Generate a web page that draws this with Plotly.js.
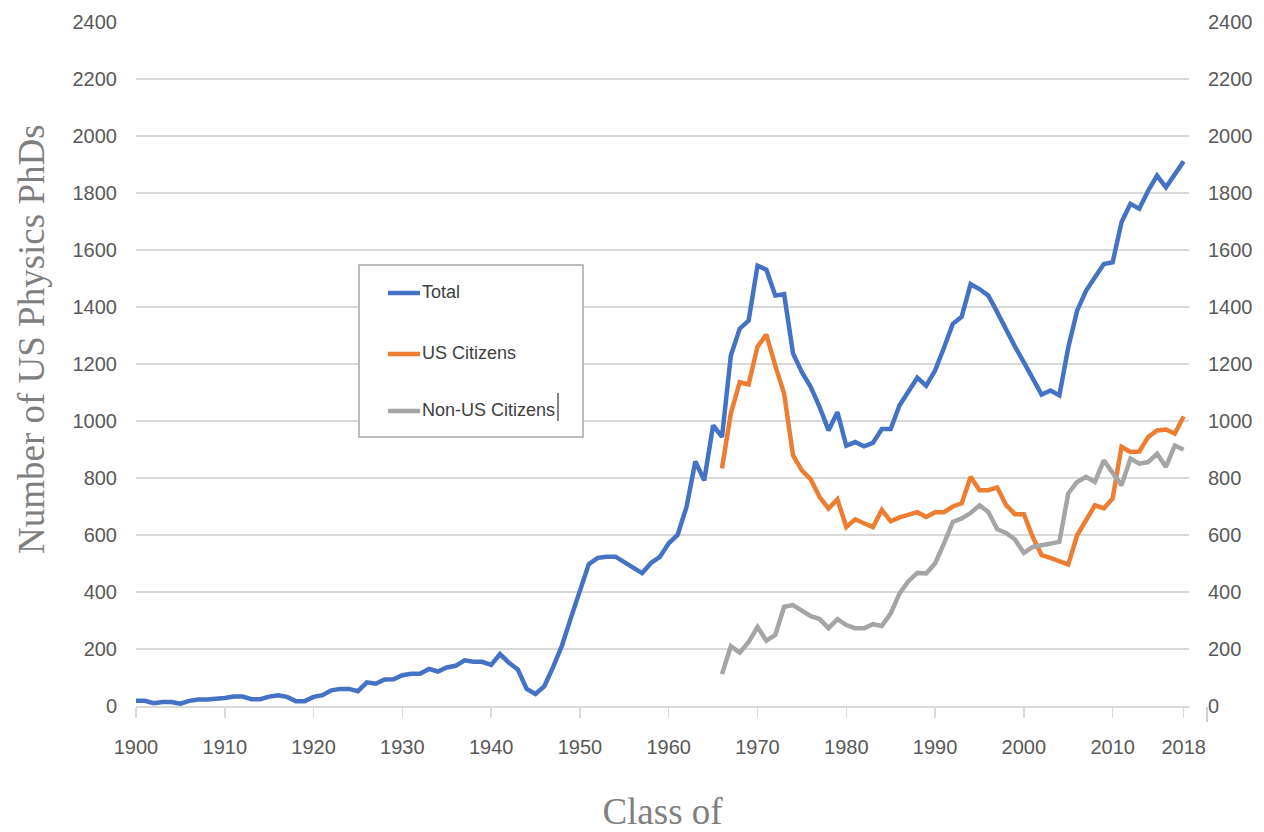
<!DOCTYPE html>
<html>
<head>
<meta charset="utf-8">
<script src="https://cdn.plot.ly/plotly-3.0.1.min.js"></script>
<style>html,body{margin:0;padding:0;background:#fff;}#chart{width:1264px;height:832px;}</style>
</head>
<body>
<div id="chart"></div>
<script>
// ---- Data ----
const totalYears = [];
for (let y = 1900; y <= 2018; y++) totalYears.push(y);
const totalPhDs = [
  18, 18, 10, 14, 14, 8, 18, 23, 23, 24,
  28, 33, 33, 24, 24, 33, 38, 32, 17, 17,
  32, 38, 55, 60, 60, 52, 83, 78, 93, 94,
  108, 113, 113, 130, 121, 135, 141, 160, 155, 155,
  144, 182, 152, 128, 60, 42, 70, 138, 214, 311,
  410, 498, 520, 524, 524, 506, 487, 466, 502, 523,
  571, 600, 698, 858, 792, 985, 944, 1230, 1324, 1352,
  1545, 1531, 1440, 1445, 1237, 1171, 1119, 1049, 967, 1031,
  913, 926, 911, 923, 972, 972, 1055, 1101, 1152, 1124,
  1177, 1257, 1341, 1366, 1480, 1463, 1440, 1382, 1317, 1261,
  1206, 1148, 1093, 1107, 1090, 1258, 1387, 1457, 1504, 1551,
  1557, 1697, 1762, 1745, 1808, 1861, 1820, 1867, 1911
];
const citizenYears = [];
for (let y = 1966; y <= 2018; y++) citizenYears.push(y);
const usCitizens = [
  834, 1027, 1136, 1128, 1261, 1303, 1194, 1096, 879, 827,
  795, 733, 693, 725, 628, 655, 641, 628, 688, 648,
  662, 673, 680, 663, 680, 680, 700, 711, 804, 757,
  757, 767, 705, 673, 673, 593, 529, 520, 508, 496,
  599, 652, 704, 693, 728, 909, 891, 893, 944, 967,
  970, 956, 1016
];
const nonUsCitizens = [
  112, 210, 187, 225, 277, 229, 249, 348, 354, 334,
  315, 305, 273, 305, 284, 273, 273, 287, 281, 325,
  395, 438, 467, 465, 500, 570, 646, 658, 677, 704,
  681, 620, 607, 584, 537, 558, 564, 571, 576, 746,
  786, 804, 786, 862, 821, 774, 868, 850, 856, 885,
  839, 914, 899
];
const xTickVals = [1900, 1910, 1920, 1930, 1940, 1950, 1960, 1970, 1980, 1990, 2000, 2010, 2018];
const yTickVals = [0, 200, 400, 600, 800, 1000, 1200, 1400, 1600, 1800, 2000, 2200, 2400];
const seriesNames = ['Total', 'US Citizens', 'Non-US Citizens'];
const seriesColors = ['#4472C4', '#ED7D31', '#A5A5A5'];

// ---- Layout helpers (pixel -> paper) ----
const L = 136, R = 1189, T = 22, B = 706;
const px = x => (x - L) / (R - L);
const py = y => (B - y) / (B - T);

const tickFont = {family: 'Liberation Sans, Arial, sans-serif', size: 20, color: '#595959'};
const titleFont = {family: 'Liberation Serif, DejaVu Serif, serif', size: 37, color: '#7f7f7f'};

const traces = [
  {x: totalYears, y: totalPhDs, name: seriesNames[0], type: 'scatter', mode: 'lines',
   line: {color: seriesColors[0], width: 4.5}},
  {x: citizenYears, y: usCitizens, name: seriesNames[1], type: 'scatter', mode: 'lines',
   line: {color: seriesColors[1], width: 4.5}},
  {x: citizenYears, y: nonUsCitizens, name: seriesNames[2], type: 'scatter', mode: 'lines',
   line: {color: seriesColors[2], width: 4.5}},
  // empty trace so the secondary (right) axis is drawn
  {x: [], y: [], yaxis: 'y2', type: 'scatter', mode: 'lines', showlegend: false, hoverinfo: 'skip'}
];

// manual legend
const legendRows = [293, 354, 411];
const shapes = [
  {type: 'rect', xref: 'paper', yref: 'paper', x0: px(359), x1: px(583), y0: py(265), y1: py(437),
   line: {color: '#a6a6a6', width: 1.5}, fillcolor: '#ffffff', layer: 'above'}
];
const annotations = [];
seriesNames.forEach((n, i) => {
  shapes.push({type: 'line', xref: 'paper', yref: 'paper', x0: px(388), x1: px(420),
    y0: py(legendRows[i]), y1: py(legendRows[i]), line: {color: seriesColors[i], width: 4.5}, layer: 'above'});
  annotations.push({xref: 'paper', yref: 'paper', x: px(420), y: py(legendRows[i] - 1), xanchor: 'left', yanchor: 'middle',
    text: n, showarrow: false, font: {family: tickFont.family, size: 18, color: '#404040'}});
});
// y-axis title placed as in the reference
annotations.push({xref: 'paper', yref: 'paper', x: px(31), y: py(339), xanchor: 'center', yanchor: 'middle',
  textangle: -90, text: 'Number of US Physics PhDs', showarrow: false, font: titleFont});
// text-cursor artifacts
shapes.push({type: 'line', xref: 'paper', yref: 'paper', x0: px(558), x1: px(558), y0: py(393), y1: py(421),
  line: {color: '#333333', width: 1.2}, layer: 'above'});
shapes.push({type: 'line', xref: 'paper', yref: 'paper', x0: px(1207), x1: px(1207), y0: py(707), y1: py(722),
  line: {color: '#bfbfbf', width: 1.5}, layer: 'above'});

const layout = {
  width: 1264, height: 832,
  margin: {l: L, r: 1264 - R, t: T, b: 832 - B, pad: 0},
  paper_bgcolor: '#ffffff', plot_bgcolor: '#ffffff',
  showlegend: false,
  xaxis: {
    range: [1900, 2018.6], tickvals: xTickVals, ticktext: xTickVals.map(String),
    ticks: 'outside', ticklen: 10, tickcolor: '#d9d9d9', tickwidth: 1.5,
    showline: true, linecolor: '#d9d9d9', linewidth: 1.5, showgrid: false, zeroline: false,
    tickfont: tickFont, ticklabelstandoff: 12,
    title: {text: 'Class of', font: titleFont, standoff: 48}
  },
  yaxis: {
    range: [0, 2400], tickvals: yTickVals, ticktext: yTickVals.map(String),
    showgrid: true, gridcolor: '#d9d9d9', gridwidth: 1.5, zeroline: false, showline: false,
    ticks: '', tickfont: tickFont, ticklabelstandoff: 18
  },
  yaxis2: {
    overlaying: 'y', side: 'right', range: [0, 2400], tickvals: yTickVals, ticktext: yTickVals.map(String),
    showgrid: false, zeroline: false, showline: false, ticks: '', tickfont: tickFont, ticklabelstandoff: 18
  },
  shapes: shapes,
  annotations: annotations
};

Plotly.newPlot('chart', traces, layout, {staticPlot: true, displayModeBar: false});
</script>
</body>
</html>
